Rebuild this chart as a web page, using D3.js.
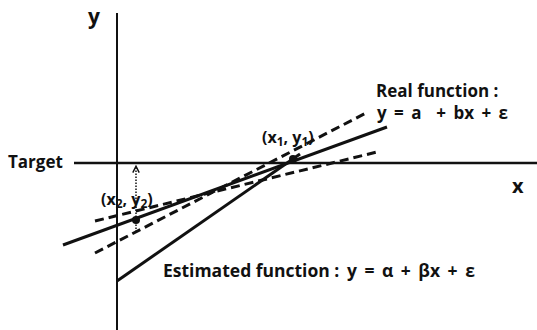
<!DOCTYPE html>
<html>
<head>
<meta charset="utf-8">
<script src="https://cdn.jsdelivr.net/npm/d3@7"></script>
<style>
  body { margin: 0; background: #fff; }
  text { font-family: "Open Sans", "Noto Sans", sans-serif; font-weight: 700; fill: #111; white-space: pre; }
</style>
</head>
<body>
<div id="chart"></div>
<script>
// data (in plot units, origin = where the y axis meets the Target line)
let targetValue = 0
let realLine = [[-1.35, -2.05], [6.75, 0.9]]
let estimatedLine = [[0, -2.95], [4.575, 0.225]]
let dashedShallow = [[-0.55, -1.45], [6.5, 0.275]]
let dashedSteep = [[-0.55, -2.25], [6.225, 1.25]]
let samplePoints = [
  {name: '1', x: 4.4, y: 0.1},
  {name: '2', x: 0.475, y: -1.425}
]
let arrowFrom = -1.725   // dotted error arrow, from below point 2 up to target
let arrowTo = -0.08

let width = 537
let height = 330

let svg = d3.select('#chart')
            .append('svg')
            .attr('width', width)
            .attr('height', height)

let x = d3.scaleLinear().domain([-2.925, 10.5]).range([0, width])
let y = d3.scaleLinear().domain([4.075, -4.175]).range([0, height])

let line = d3.line().x(d => x(d[0])).y(d => y(d[1]))

svg.append('defs').append('marker')
   .attr('id', 'head')
   .attr('viewBox', '0 0 10 10')
   .attr('refX', 9).attr('refY', 5)
   .attr('markerWidth', 8).attr('markerHeight', 8)
   .attr('markerUnits', 'userSpaceOnUse')
   .attr('orient', 'auto')
   .append('path')
   .attr('d', 'M1,1 L9,5 L1,9')
   .attr('fill', 'none')
   .attr('stroke', '#111')
   .attr('stroke-width', 1.8)

// y axis
svg.append('line')
   .attr('x1', x(0)).attr('x2', x(0))
   .attr('y1', y(3.75)).attr('y2', height)
   .attr('stroke', '#111').attr('stroke-width', 2)

// target / x axis
svg.append('line')
   .attr('x1', x(-1.075)).attr('x2', width)
   .attr('y1', y(targetValue)).attr('y2', y(targetValue))
   .attr('stroke', '#111').attr('stroke-width', 2.5)

// dashed estimates
svg.selectAll('.dash')
   .data([dashedShallow, dashedSteep])
   .enter()
   .append('path')
   .attr('class', 'dash')
   .attr('d', line)
   .attr('fill', 'none')
   .attr('stroke', '#111')
   .attr('stroke-width', 3)
   .attr('stroke-dasharray', '9,5')

// solid lines
svg.selectAll('.solid')
   .data([realLine, estimatedLine])
   .enter()
   .append('path')
   .attr('class', 'solid')
   .attr('d', line)
   .attr('fill', 'none')
   .attr('stroke', '#111')
   .attr('stroke-width', 3)

// dotted arrow up to target
svg.append('line')
   .attr('x1', x(samplePoints[1].x)).attr('x2', x(samplePoints[1].x))
   .attr('y1', y(arrowFrom)).attr('y2', y(arrowTo))
   .attr('stroke', '#111').attr('stroke-width', 1.5)
   .attr('stroke-dasharray', '1.5,1.5')
   .attr('marker-end', 'url(#head)')

svg.selectAll('.pt')
   .data(samplePoints)
   .enter()
   .append('circle')
   .attr('class', 'pt')
   .attr('cx', d => x(d.x))
   .attr('cy', d => y(d.y))
   .attr('r', 4)
   .attr('fill', '#111')

// labels
function label(t, px, py, size) {
  return svg.append('text').attr('x', px).attr('y', py)
            .attr('font-size', size).text(t)
}
label('y', 88, 24, 21)
label('x', 512, 193, 20)
label('Target', 8, 168, 17)
label('Real function :', 376, 97, 17)
label('y = a  + bx + ε', 377, 119, 17).attr('word-spacing', 3)
let est = label('Estimated function :', 163, 277, 17.5)
est.append('tspan').attr('word-spacing', 3).text(' y = α + βx + ε')

function pointLabel(d, px, py) {
  let t = svg.append('text').attr('x', px).attr('y', py).attr('font-size', 16)
  t.append('tspan').text('(x')
  t.append('tspan').attr('font-size', 12).attr('dy', 3).text(d.name)
  t.append('tspan').attr('dy', -3).text(', y')
  t.append('tspan').attr('font-size', 12).attr('dy', 3).text(d.name)
  t.append('tspan').attr('dy', -3).text(')')
}
pointLabel(samplePoints[0], 262, 143)
pointLabel(samplePoints[1], 101, 205)
</script>
</body>
</html>
